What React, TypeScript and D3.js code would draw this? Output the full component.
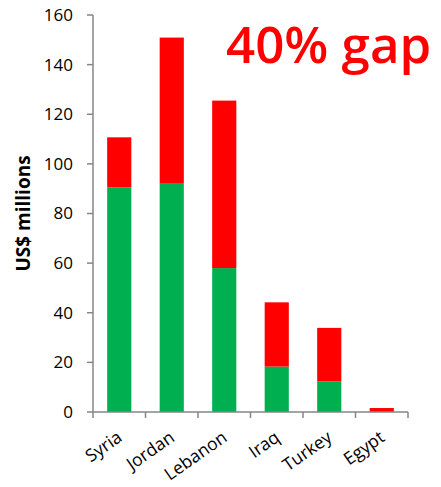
import React from "react";
import * as d3 from "d3";

const categories = ["Syria", "Jordan", "Lebanon", "Iraq", "Turkey", "Egypt"];
const funded = [90.5, 92.3, 58, 18.3, 12.4, 0];
const gap = [20.2, 58.6, 67.5, 25.9, 21.5, 1.6];
const yTicks = [0, 20, 40, 60, 80, 100, 120, 140, 160];

const W = 441, H = 487;
const left = 93, right = 408, top = 15, bottom = 412;

export default function App() {
  const x = d3.scaleBand<string>().domain(categories).range([left, right]).paddingInner(0).paddingOuter(0);
  const y = d3.scaleLinear().domain([0, 160]).range([bottom, top]);
  const bw = x.bandwidth() * 0.46;
  const axisColor = "#868686";
  const font = "'Open Sans', Lato, sans-serif";
  return (
    <svg width={W} height={H} style={{ position: "absolute", left: 0, top: 0, background: "#fff" }}>
      {categories.map((c, i) => {
        const cx = (x(c) as number) + x.bandwidth() / 2;
        return (
          <g key={c}>
            <rect x={cx - bw / 2} y={y(funded[i])} width={bw} height={bottom - y(funded[i])} fill="#00B050" />
            <rect x={cx - bw / 2} y={y(funded[i] + gap[i])} width={bw} height={y(funded[i]) - y(funded[i] + gap[i])} fill="#FF0000" />
          </g>
        );
      })}
      <line x1={left} x2={left} y1={top} y2={bottom} stroke={axisColor} strokeWidth={1.5} />
      <line x1={left} x2={right} y1={bottom} y2={bottom} stroke={axisColor} strokeWidth={1.5} />
      {yTicks.map((t) => (
        <g key={t}>
          <line x1={left - 6} x2={left} y1={y(t)} y2={y(t)} stroke={axisColor} strokeWidth={1.5} />
          <text x={73} y={y(t)} dy="0.35em" textAnchor="end" fontFamily={font} fontSize={17} fill="#000">{t}</text>
        </g>
      ))}
      {[...categories.map((c) => x(c) as number), right].map((v, i) => (
        <line key={i} x1={v} x2={v} y1={bottom} y2={bottom + 6} stroke={axisColor} strokeWidth={1.5} />
      ))}
      {categories.map((c) => {
        const cx = (x(c) as number) + x.bandwidth() / 2;
        return (
          <text key={c} transform={`translate(${cx + 4},${bottom + 28}) rotate(-35)`} textAnchor="end" fontFamily={font} fontSize={17.5} fill="#000">{c}</text>
        );
      })}
      <text transform={`translate(30,213.5) rotate(-90)`} textAnchor="middle" fontFamily={font} fontWeight="bold" fontSize={19} fill="#000">US$ millions</text>
      <text x={226} y={63} fontFamily={font} fontWeight={600} fontSize={51} fill="#FF0000">40% gap</text>
    </svg>
  );
}
